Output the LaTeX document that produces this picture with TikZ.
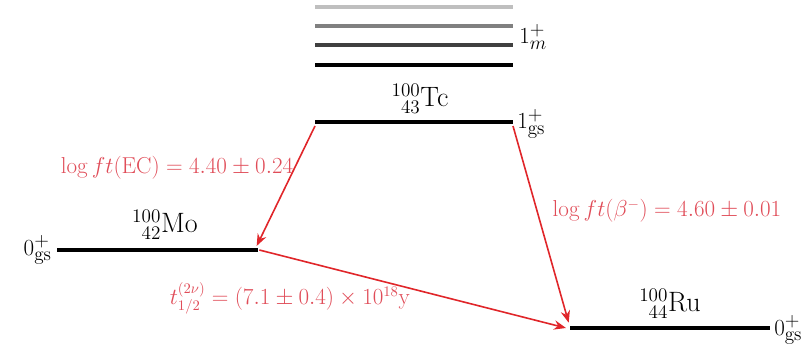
\documentclass[tikz,border=0pt]{standalone}
\usetikzlibrary{arrows.meta}
\definecolor{arr}{HTML}{E0262A}
\definecolor{lab}{HTML}{E04C58}
\begin{document}
\begin{tikzpicture}[x=0.75pt,y=-0.75pt,
  level/.style={line width=3pt},
  decay/.style={arr,line width=1.2pt,-{Stealth[length=9pt,width=7pt]}},
  redlab/.style={lab,font=\fontsize{16}{18}\selectfont,inner sep=0pt},
  nuc/.style={font=\fontsize{21}{24}\selectfont,inner sep=0pt},
  spin/.style={font=\fontsize{19}{21}\selectfont,inner sep=0pt}]
\useasboundingbox (0,0) rectangle (810,346);
% Tc levels
\draw[level,black!25] (315,7) -- (513,7);
\draw[level,black!50] (315,26) -- (513,26);
\draw[level,black!75] (315,45) -- (513,45);
\draw[level] (315,65) -- (513,65);
\coordinate (tcL) at (315,122);
\coordinate (tcR) at (513,122);
\draw[level] (tcL) -- (tcR);
\node[spin,anchor=west] (m) at (519,37) {$1^+_m$};
\node[spin,anchor=west] (tcs) at (517,124) {$1^+_{\mathrm{gs}}$};
\node[nuc] (tc) at (420,99) {$^{100}_{\phantom{1}43}$Tc};
% Mo
\coordinate (moL) at (57,250);
\coordinate (moR) at (258,250);
\draw[level] (moL) -- (moR);
\node[spin,anchor=east] (mos) at (52,250) {$0^+_{\mathrm{gs}}$};
\node[nuc] (mo) at (165,225) {$^{100}_{\phantom{1}42}$Mo};
% Ru
\coordinate (ruL) at (570,328);
\coordinate (ruR) at (770,328);
\draw[level] (ruL) -- (ruR);
\node[spin,anchor=west] (rus) at (774,330) {$0^+_{\mathrm{gs}}$};
\node[nuc] (ru) at (670,304) {$^{100}_{\phantom{1}44}$Ru};
% arrows
\draw[decay] ([yshift=-3pt]tcL) -- ([xshift=-1pt,yshift=3pt]moR);
\draw[decay] ([yshift=-3pt]tcR) -- ([xshift=-1pt,yshift=4pt]ruL);
\draw[decay] ([xshift=1pt]moR) -- ([xshift=-3pt]ruL);
% labels
\node[redlab] (l1) at (177,168) {$\log ft(\mathrm{EC}) = 4.40 \pm 0.24$};
\node[redlab] (l2) at (667,211) {$\log ft(\beta^-) = 4.60 \pm 0.01$};
\node[redlab] (l3) at (290,298) {$t^{(2\nu)}_{1/2} = (7.1 \pm 0.4) \times 10^{18}\mathrm{y}$};
\end{tikzpicture}
\end{document}
